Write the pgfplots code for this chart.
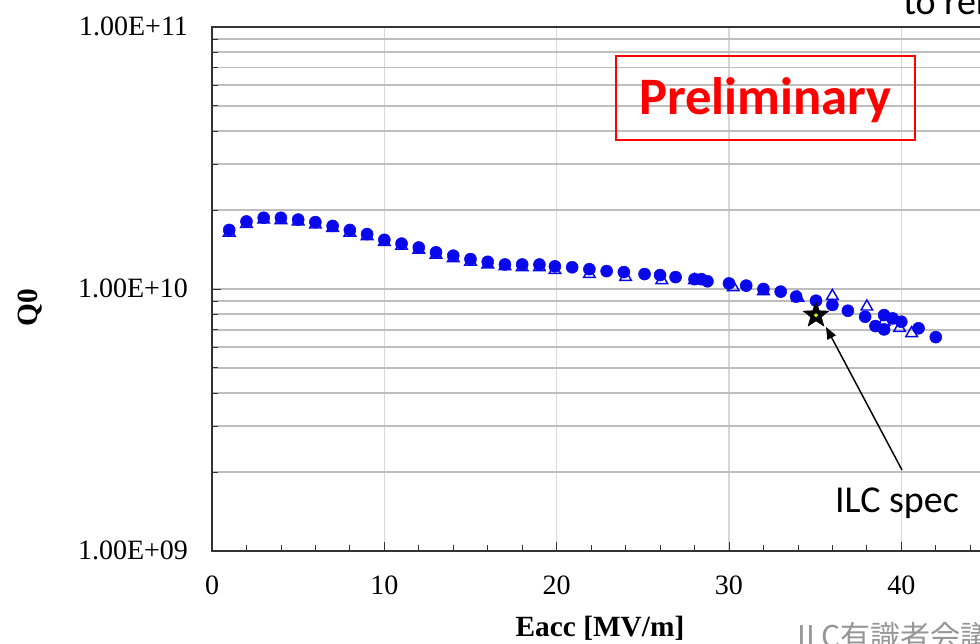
\documentclass[border=0pt]{standalone}
\usepackage{fontspec}
\setmainfont{Liberation Serif}
\newfontfamily\calibri{Carlito}
\newfontfamily\jp{Noto Sans CJK JP}
\usepackage{pgfplots}
\usepackage{pgfplotstable}
\pgfplotsset{compat=1.18}
\usetikzlibrary{arrows.meta}
\definecolor{dotblue}{RGB}{8,8,235}
\definecolor{gridgray}{RGB}{190,190,190}
\definecolor{vgridgray}{RGB}{215,215,215}
\definecolor{notegray}{RGB}{150,150,150}
\pgfdeclareplotmark{fstar}{%
  \pgfpathmoveto{\pgfpointpolar{90}{\pgfplotmarksize}}%
  \pgfpathlineto{\pgfpointpolar{126}{0.42*\pgfplotmarksize}}%
  \pgfpathlineto{\pgfpointpolar{162}{\pgfplotmarksize}}%
  \pgfpathlineto{\pgfpointpolar{198}{0.42*\pgfplotmarksize}}%
  \pgfpathlineto{\pgfpointpolar{234}{\pgfplotmarksize}}%
  \pgfpathlineto{\pgfpointpolar{270}{0.42*\pgfplotmarksize}}%
  \pgfpathlineto{\pgfpointpolar{306}{\pgfplotmarksize}}%
  \pgfpathlineto{\pgfpointpolar{342}{0.42*\pgfplotmarksize}}%
  \pgfpathlineto{\pgfpointpolar{18}{\pgfplotmarksize}}%
  \pgfpathlineto{\pgfpointpolar{54}{0.42*\pgfplotmarksize}}%
  \pgfpathclose
  \pgfusepathqfillstroke}

\pgfplotstableread{
E Q
1 1.68e10
2 1.81e10
3 1.87e10
4 1.87e10
5 1.84e10
6 1.80e10
7 1.74e10
8 1.68e10
9 1.62e10
10 1.54e10
11 1.49e10
12 1.44e10
13 1.38e10
14 1.34e10
15 1.30e10
16 1.27e10
17 1.24e10
18 1.24e10
19 1.24e10
19.9 1.22e10
20.9 1.21e10
21.9 1.19e10
22.9 1.17e10
23.9 1.16e10
25.1 1.14e10
26 1.13e10
26.9 1.11e10
28 1.09e10
28.4 1.09e10
28.75 1.07e10
30 1.05e10
31 1.03e10
32 1.00e10
33 9.77e9
33.9 9.35e9
35.05 9.02e9
36 8.69e9
36.9 8.26e9
37.9 7.84e9
38.5 7.22e9
39 7.95e9
39 7.01e9
39.5 7.72e9
40 7.50e9
41 7.08e9
42 6.55e9
}\circdata

\pgfplotstableread{
E Q
1 1.64e10
2 1.77e10
3 1.84e10
4 1.83e10
5 1.81e10
6 1.76e10
7 1.71e10
8 1.64e10
9 1.59e10
10 1.51e10
11 1.46e10
12 1.41e10
13 1.35e10
14 1.31e10
15 1.27e10
16 1.24e10
17 1.22e10
18 1.21e10
19 1.21e10
19.9 1.18e10
21.9 1.14e10
24 1.11e10
26.1 1.08e10
28 1.08e10
30.25 1.015e10
32 9.8e9
34 9.25e9
36 9.4e9
38 8.56e9
39 7.5e9
39.9 7.1e9
40.6 6.78e9
}\tridata
\begin{document}
\begin{tikzpicture}
\path[use as bounding box] (0pt,0pt) rectangle (735pt,-482.25pt);
\clip (0pt,0pt) rectangle (735pt,-482.25pt);
\begin{axis}[
  at={(159pt,-413.25pt)}, anchor=south west,
  scale only axis, width=581.6pt, height=393pt,
  xmin=0, xmax=45, ymode=log, ymin=1e9, ymax=1e11,
  xtick={0,10,20,30,40}, minor xtick={2,4,6,8,12,14,16,18,22,24,26,28,32,34,36,38,42,44},
  ytick={1e9,1e10,1e11}, yticklabels={1.00E+09,1.00E+10,1.00E+11},
  minor ytick={2e9,3e9,4e9,5e9,6e9,7e9,8e9,9e9,2e10,3e10,4e10,5e10,6e10,7e10,8e10,9e10},
  xtick pos=bottom, ytick pos=left, tick align=inside,
  major tick length=7pt, minor tick length=4.5pt,
  every tick/.style={black!80, line width=0.6pt},
  xmajorgrids=true, ymajorgrids=true, yminorgrids=true,
  major x grid style={vgridgray, line width=0.9pt},
  major y grid style={gridgray, line width=1.4pt},
  minor y grid style={gridgray, line width=1.4pt},
  axis line style={black!80, line width=0.8pt},
  /pgf/number format/assume math mode=true,
  ticklabel style={font=\fontsize{21}{24}\selectfont},
  xticklabel style={anchor=base, yshift=-33pt},
  yticklabel style={anchor=base east, xshift=-14.5pt, yshift=-6.5pt},
  xlabel={Eacc [MV/m]}, ylabel={Q0},
  xlabel style={at={(axis description cs:0.5003,-0.147)}, anchor=center, font=\bfseries\fontsize{22}{26}\selectfont},
  ylabel style={at={(axis description cs:-0.2347,0.4637)}, anchor=center, font=\bfseries\fontsize{22}{26}\selectfont},
]
\addplot[only marks, mark=triangle, mark size=5pt, mark options={draw=dotblue, fill=white, line width=1.1pt}] table[x=E,y=Q] {\tridata};
\addplot[only marks, mark=*, mark size=4.5pt, mark options={draw=dotblue, fill=dotblue}] table[x=E,y=Q] {\circdata};
\addplot[only marks, mark=fstar, mark size=10pt, mark options={draw=black, fill=black}] coordinates {(35.05,7.94e9)};
\addplot[only marks, mark=*, mark size=1.3pt, mark options={draw=yellow!80!green, fill=yellow}] coordinates {(35.05,7.94e9)};
\end{axis}
\begin{scope}[x=0.75pt,y=-0.75pt]
\draw[red, line width=1.5pt] (616,56) rectangle (915,140);
\node[red, font=\calibri\bfseries\fontsize{39.5}{44}\selectfont] at (765.5,100) {Preliminary};
\draw[black, line width=1.1pt, -{Triangle[length=9pt,width=7pt]}] (902,470) -- (826,327);
\node[font=\calibri\fontsize{28.5}{32}\selectfont] at (897,503) {ILC spec};
\node[anchor=base west, inner sep=0pt, font=\calibri\fontsize{28.5}{32}\selectfont] at (903,14) {to ren};
\node[anchor=base west, inner sep=0pt, text=notegray, font=\jp\fontsize{22.5}{26}\selectfont] at (797,647) {ILC有識者会議報告};
\end{scope}
\end{tikzpicture}
\end{document}
